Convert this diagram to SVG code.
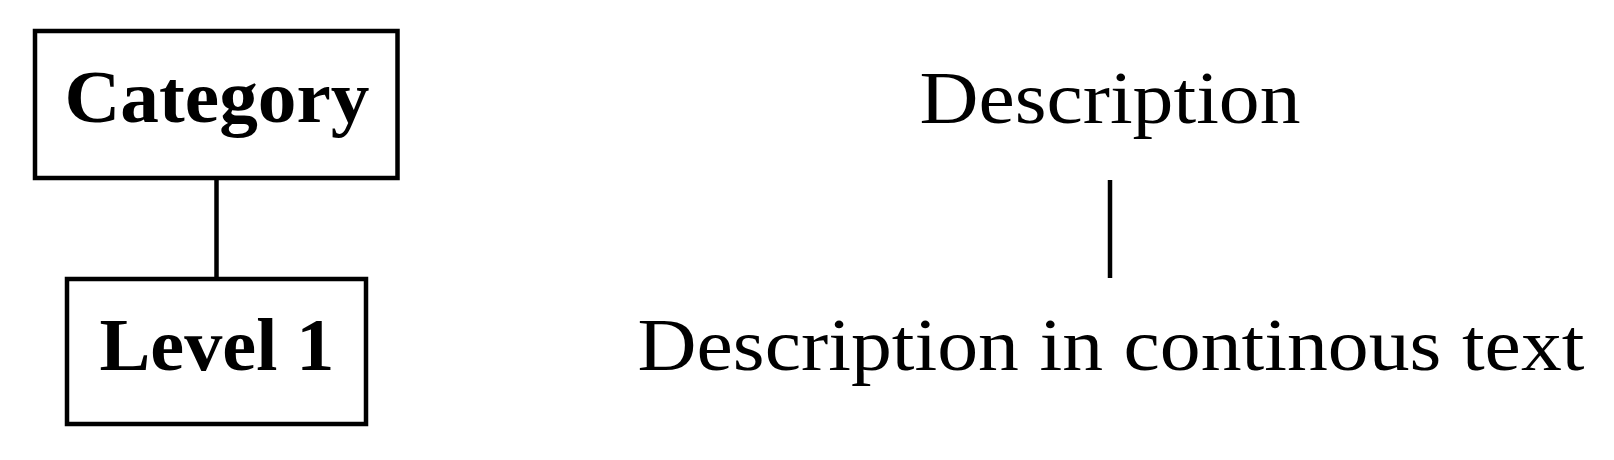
<svg xmlns="http://www.w3.org/2000/svg" width="1614" height="460" viewBox="0 0 1614 460">
<style>
.box{fill:#fff;stroke:#000;stroke-width:4.5}
.lbl{font-family:"Liberation Serif","DejaVu Serif",serif;font-weight:bold;font-size:75px;fill:#000;text-anchor:middle}
.txt{font-family:"Liberation Serif","DejaVu Serif",serif;font-size:75px;fill:#000;text-anchor:middle}
.con{stroke:#000;stroke-width:4.5;fill:none}
</style>
<rect width="1614" height="460" fill="#fff"/>
<g id="connectors">
<line class="con" x1="216.5" y1="178" x2="216.5" y2="279"/>
<line class="con" x1="1110" y1="180" x2="1110" y2="278"/>
</g>
<g id="category">
<rect class="box" x="35" y="31" width="362.5" height="147"/>
<text class="lbl" x="217" y="122" textLength="305" lengthAdjust="spacingAndGlyphs">Category</text>
</g>
<g id="level1">
<rect class="box" x="67" y="279" width="299" height="145"/>
<text class="lbl" x="217" y="370" textLength="235" lengthAdjust="spacingAndGlyphs">Level 1</text>
</g>
<g id="description">
<text class="txt" x="1110" y="123" textLength="381" lengthAdjust="spacingAndGlyphs">Description</text>
</g>
<g id="description-continuous">
<text class="txt" x="1111" y="370" textLength="947" lengthAdjust="spacingAndGlyphs">Description in continous text</text>
</g>
</svg>
